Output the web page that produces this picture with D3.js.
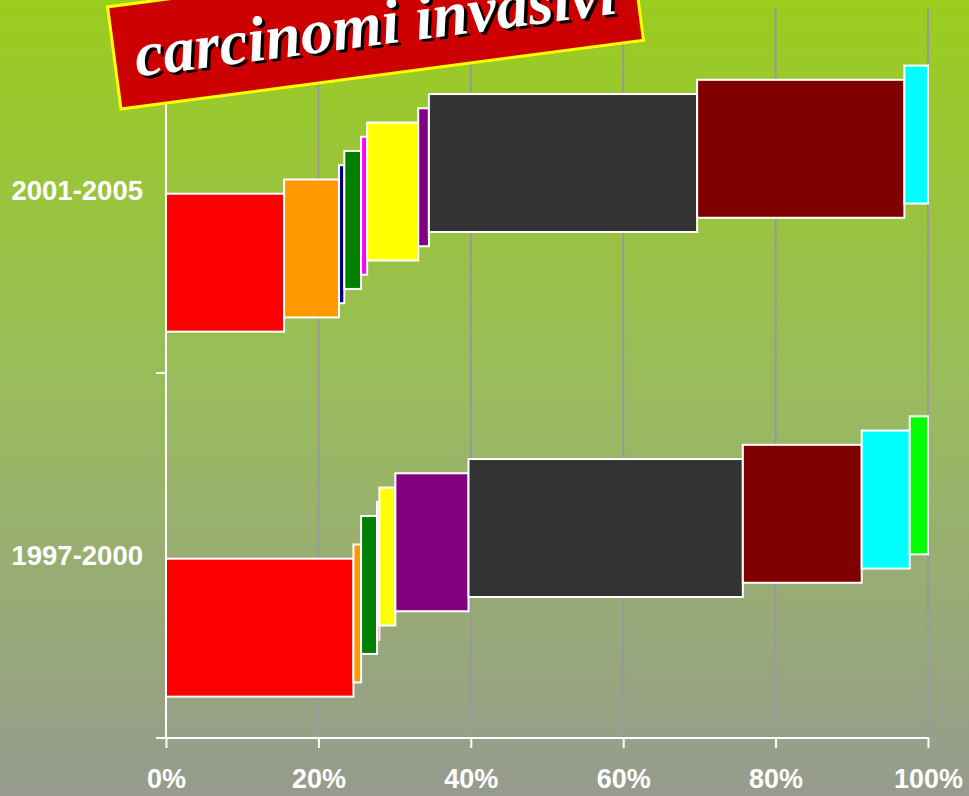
<!DOCTYPE html>
<html>
<head>
<meta charset="utf-8">
<script src="https://cdn.jsdelivr.net/npm/d3@7"></script>
<style>
  html, body { margin: 0; padding: 0; overflow: hidden; }
</style>
</head>
<body>
<div id="app"></div>
<script>
const categories = ["2001-2005", "1997-2000"];

const seriesKeys = ["rosso", "arancio", "blu", "verde", "magenta", "giallo", "viola", "grigio", "bordeaux", "ciano", "lime"];
const seriesColors = ["#ff0000", "#ff9900", "#000080", "#008000", "#ff00ff", "#ffff00", "#800080", "#333333", "#800000", "#00ffff", "#00ff00"];

// percent values, same order as categories
const rosso    = [15.5, 24.6];
const arancio  = [7.2, 1.0];
const blu      = [0.7, 0];
const verde    = [2.2, 2.1];
const magenta  = [0.8, 0.3];
const giallo   = [6.7, 2.1];
const viola    = [1.4, 9.6];
const grigio   = [35.2, 36.0];
const bordeaux = [27.2, 15.6];
const ciano    = [3.1, 6.3];
const lime     = [0, 2.4];

const xTicks = [0, 20, 40, 60, 80, 100];
const titleText = "carcinomi invasivi";

const seriesValues = [rosso, arancio, blu, verde, magenta, giallo, viola, grigio, bordeaux, ciano, lime];

const table = categories.map((c, i) => {
  const row = { cat: c };
  seriesKeys.forEach((k, j) => { row[k] = seriesValues[j][i]; });
  return row;
});

const width = 969, height = 796;
const margin = { top: 8, right: 41, bottom: 58, left: 166 };

const svg = d3.select("#app")
  .append("svg")
  .attr("width", width)
  .attr("height", height)
  .style("display", "block");

const defs = svg.append("defs");
const grad = defs.append("linearGradient")
  .attr("id", "bg")
  .attr("x1", 0).attr("y1", 0).attr("x2", 0).attr("y2", 1);
grad.append("stop").attr("offset", "0%").attr("stop-color", "#9acd1e");
grad.append("stop").attr("offset", "50%").attr("stop-color", "#99bb5e");
grad.append("stop").attr("offset", "100%").attr("stop-color", "#979b8e");

svg.append("rect")
  .attr("width", width)
  .attr("height", height)
  .attr("fill", "url(#bg)");

const x = d3.scaleLinear()
  .domain([0, 100])
  .range([margin.left, width - margin.right]);

const y = d3.scaleBand()
  .domain(categories)
  .range([margin.top, height - margin.bottom]);

// gridlines
svg.append("g")
  .selectAll("line")
  .data(xTicks.slice(1))
  .join("line")
  .attr("x1", d => x(d))
  .attr("x2", d => x(d))
  .attr("y1", y.range()[0])
  .attr("y2", y.range()[1])
  .attr("stroke", "#999999")
  .attr("stroke-width", 2);

// stacked segments, each shifted up like the 3d look
const stack = d3.stack().keys(seriesKeys)(table);
const barH = y.bandwidth() * 0.378;
const step = y.bandwidth() * 0.039;
const extent = barH + (seriesKeys.length - 1) * step;

const segs = svg.append("g");
stack.forEach((layer, i) => {
  segs.append("g")
    .selectAll("rect")
    .data(layer.filter(d => d[1] - d[0] > 0))
    .join("rect")
    .attr("x", d => x(d[0]))
    .attr("width", d => x(d[1]) - x(d[0]))
    .attr("y", d => y(d.data.cat) + y.bandwidth() / 2 + extent / 2 - barH - i * step + 1)
    .attr("height", barH)
    .attr("fill", seriesColors[i])
    .attr("stroke", "#ffffff")
    .attr("stroke-width", 2);
});

// axes
const xAxis = svg.append("g")
  .attr("transform", `translate(0,${y.range()[1]})`)
  .call(d3.axisBottom(x).tickValues(xTicks).tickSize(10).tickPadding(21).tickFormat(d => d + "%"));
xAxis.select(".domain").remove();
xAxis.append("line")
  .attr("x1", margin.left - 10)
  .attr("x2", x(100) + 1)
  .attr("stroke", "#ffffff")
  .attr("stroke-width", 2);
xAxis.selectAll(".tick line").attr("stroke", "#ffffff").attr("stroke-width", 2);
xAxis.selectAll(".tick text")
  .attr("fill", "#ffffff")
  .style("font-family", "'Liberation Sans', Arial, sans-serif")
  .style("font-weight", "bold")
  .style("font-size", "27px");

const yAxis = svg.append("g")
  .attr("transform", `translate(${margin.left},0)`);
yAxis.append("line")
  .attr("y1", y.range()[0])
  .attr("y2", y.range()[1])
  .attr("stroke", "#ffffff")
  .attr("stroke-width", 2);
yAxis.selectAll(".ytick")
  .data(categories.map(c => y(c)))
  .join("line")
  .attr("class", "ytick")
  .attr("x1", -10)
  .attr("x2", 0)
  .attr("y1", d => d)
  .attr("y2", d => d)
  .attr("stroke", "#ffffff")
  .attr("stroke-width", 2);
yAxis.selectAll(".ylabel")
  .data(categories)
  .join("text")
  .attr("class", "ylabel")
  .attr("x", -23)
  .attr("y", d => y(d) + y.bandwidth() / 2)
  .attr("dy", "0.35em")
  .attr("text-anchor", "end")
  .attr("fill", "#ffffff")
  .style("font-family", "'Liberation Sans', Arial, sans-serif")
  .style("font-weight", "bold")
  .style("font-size", "27.5px")
  .text(d => d);

// title banner
const title = svg.append("g")
  .attr("transform", "translate(121,109) rotate(-7.5)");
title.append("rect")
  .attr("x", 0)
  .attr("y", -103)
  .attr("width", 527)
  .attr("height", 103)
  .attr("fill", "#cc0000")
  .attr("stroke", "#ffff00")
  .attr("stroke-width", 3);
[["#000000", 3], ["#ffffff", 0]].forEach(([c, off]) => {
  title.append("text")
    .attr("x", 263 + off)
    .attr("y", -30 + off)
    .attr("text-anchor", "middle")
    .attr("fill", c)
    .style("font-family", "'Liberation Serif', 'Times New Roman', serif")
    .style("font-weight", "bold")
    .style("font-style", "italic")
    .style("font-size", "64px")
    .text(titleText);
});
</script>
</body>
</html>
